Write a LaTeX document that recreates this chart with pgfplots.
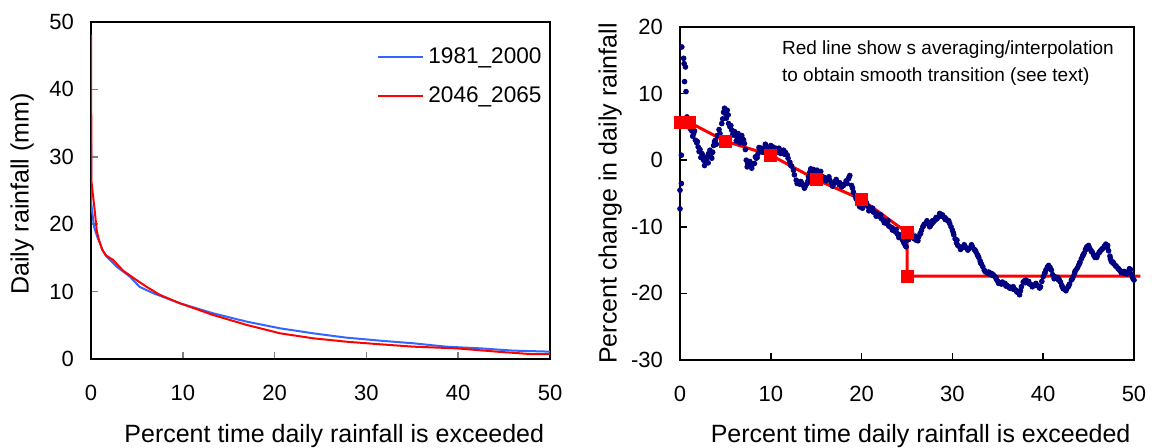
\documentclass[border=0pt]{standalone}
\usepackage{pgfplots}
\pgfplotsset{compat=1.18}
\usepackage{fontspec}
\setmainfont{Liberation Sans}
\definecolor{lblue}{RGB}{51,102,255}
\definecolor{navy}{RGB}{0,0,128}
\begin{document}
\begin{tikzpicture}
\pgfplotsset{
  myax/.style={
    scale only axis,
    anchor=south west,
    xmin=0, xmax=50,
    xtick={0,10,...,50},
    tick pos=left,
    tick align=inside,
    major tick length=3.5pt,
    axis line style={line width=0.8pt},
    /pgf/number format/assume math mode=true,
    tick label style={font=\fontsize{11}{13}\selectfont},
    yticklabel style={xshift=-5pt},
    xticklabel style={yshift=-9.5pt},
    label style={font=\fontsize{12.5}{15}\selectfont},
    xlabel style={at={(axis description cs:0.53,-0.228)}, anchor=center},
    xlabel={Percent time daily rainfall is exceeded},
  }
}
\begin{axis}[myax,
  at={(45.5pt,44.5pt)}, width=229.5pt, height=168.5pt,
  ymin=0, ymax=50, ytick={0,10,...,50},
  major tick style={gray, line width=0.8pt},
  ylabel={Daily rainfall (mm)},
  ylabel style={at={(axis description cs:-0.15,0.49)}, anchor=center},
  legend style={draw=none, fill=none, at={(axis description cs:0.61,0.949)}, anchor=north west,
    font=\fontsize{11.3}{13}\selectfont, row sep=6pt},
  legend cell align=left,
  legend image code/.code={\draw[#1] (0pt,0pt) -- (22.5pt,0pt);},
]
\addplot[lblue, line width=1pt] coordinates {
(0,32.0) (0.02,23.1) (0.33,19.6) (0.69,18.1) (0.98,17.2) (1.23,16.2) (1.7,15.2)
(2.8,13.7) (4.25,12.2) (5.3,10.7) (6.8,9.75) (9.7,8.26) (13.3,6.78) (17,5.53)
(20.6,4.55) (24.2,3.81) (27.8,3.17) (31.5,2.72) (35.1,2.33) (38.7,1.83)
(42.4,1.58) (46,1.24) (50,1.09)};
\addlegendentry{1981\_2000}
\addplot[red, line width=1pt] coordinates {
(0,48.1) (0.05,26.3) (0.4,22.1) (0.62,19.1) (0.87,17.6) (1.23,16.2) (1.6,15.4)
(2.4,14.7) (3.5,13.1) (4.97,11.7) (6.06,10.7) (7.52,9.5) (9.7,8.26) (13.3,6.53)
(17,5.04) (20.6,3.81) (24.2,3.07) (27.8,2.57) (31.5,2.18) (35.1,1.83)
(39.8,1.58) (44.2,1.09) (47.8,0.74) (50,0.74)};
\addlegendentry{2046\_2065}
\end{axis}

\begin{axis}[myax,
  at={(340pt,44pt)}, width=227pt, height=166.5pt,
  ymin=-30, ymax=20, ytick={-30,-20,...,20},
  major tick style={black, line width=0.8pt},
  clip=false,
  ylabel={Percent change in daily rainfall},
  ylabel style={at={(axis description cs:-0.154,0.5)}, anchor=center},
]
\addplot[only marks, mark=*, mark size=1.2pt, navy] coordinates {
(0,-4.5) (0,-7.3) (0.15,0.75) (0.15,-3.5) (0.2,17.0) (0.4,15.3) (0.45,14.5) (0.6,14.0)
(0.5,11.8) (0.66,10.3) (0.77,6.5) (1.0,5.0) (1.15,4.7) (1.3,4.4) (1.5,4.0) (1.7,3.0)
(1.85,2.6) (2.0,2.0) (2.2,1.6) (2.4,1.0) (2.6,0.0) (2.8,-0.3) (3.0,0.5) (3.15,1.0)
(3.3,1.5) (3.5,0.3) (3.7,2.2) (3.9,3.0) (4.1,3.7) (4.4,4.0) (4.6,5.5) (4.8,7.2)
(5.0,7.0) (5.2,7.5) (5.35,5.5) (5.5,5.0) (5.7,4.5) (5.9,4.0) (6.1,3.7) (6.3,3.4)
(6.5,3.2) (6.8,3.7) (7.0,3.0) (7.1,2.5) (7.3,0) (7.45,-0.5) (7.6,-0.8) (7.9,-1.2)
(8.2,-0.5) (8.4,0.3) (8.6,1.0) (8.8,1.4) (9.0,1.8) (9.25,1.6) (9.5,2.0) (9.75,1.7)
(10.0,2.2) (10.3,1.5) (10.55,1.8) (10.8,1.2) (11.1,1.0) (11.4,1.5) (11.6,1.2)
(11.8,0.8) (12.1,-0.3) (12.3,-0.9) (12.5,-1.5) (12.8,-3.0) (13.0,-3.3) (13.2,-3.6)
(13.4,-3.4) (13.6,-3.8) (13.8,-3.9) (14.0,-3.5) (14.15,-2.5) (14.3,-1.8) (14.5,-1.5)
(14.7,-1.4) (14.9,-1.6) (15.1,-1.5) (15.4,-2.0) (15.6,-2.4) (15.9,-2.6) (16.2,-2.8)
(16.5,-3.0) (16.7,-3.4) (16.9,-3.6) (17.1,-3.2) (17.3,-3.3) (17.55,-3.7) (17.8,-4.0)
(18.1,-3.6) (18.4,-3.5) (18.55,-2.8) (18.7,-2.3) (18.9,-3.8) (19.1,-4.8) (19.3,-5.4)
(19.5,-6.0) (19.65,-6.6) (19.8,-7.0) (20.0,-6.8) (20.2,-6.5) (20.4,-6.6) (20.6,-6.8)
(20.75,-7.0) (20.9,-7.3) (21.1,-7.5) (21.3,-7.8) (21.5,-7.9) (21.7,-8.0) (21.85,-8.3)
(22.0,-8.5) (22.2,-8.8) (22.4,-9.0) (22.6,-9.2) (22.8,-9.5) (22.95,-9.8) (23.1,-10.0)
(23.3,-10.1) (23.5,-10.3) (23.7,-10.7) (23.9,-11.0) (24.05,-11.3) (24.2,-11.2)
(24.35,-11.6) (24.5,-12.0) (24.65,-12.4) (24.8,-12.8) (25.0,-12.0) (25.15,-11.6)
(25.3,-11.2) (25.45,-11.3) (25.6,-11.5) (25.8,-11.8) (26.0,-12.0) (26.15,-11.8)
(26.3,-11.5) (26.45,-11.0) (26.6,-10.5) (26.75,-10.0) (26.9,-9.6) (27.1,-9.5)
(27.3,-9.5) (27.45,-9.7) (27.6,-9.8) (27.75,-9.5) (27.9,-9.3) (28.1,-9.0) (28.3,-8.8)
(28.5,-8.5) (28.7,-8.3) (28.85,-8.4) (29.0,-8.5) (29.15,-8.6) (29.3,-8.8) (29.5,-9.1)
(29.7,-9.5) (29.85,-10.0) (30.0,-10.5) (30.15,-11.2) (30.3,-11.8) (30.45,-12.4)
(30.6,-12.8) (30.8,-13.0) (31.0,-13.2) (31.2,-13.1) (31.4,-13.0) (31.6,-13.2)
(31.8,-13.3) (32.0,-13.1) (32.2,-13.0) (32.4,-13.4) (32.6,-13.8) (32.75,-14.2)
(32.9,-14.6) (33.05,-15.1) (33.2,-15.6) (33.35,-16.0) (33.5,-16.5) (33.7,-16.8)
(33.9,-17.0) (34.1,-17.1) (34.3,-17.0) (34.5,-17.2) (34.7,-17.5) (34.85,-17.9)
(35.0,-18.2) (35.2,-18.4) (35.4,-18.6) (35.6,-18.5) (35.8,-18.5) (36.0,-18.8)
(36.2,-19.0) (36.4,-19.1) (36.6,-19.3) (36.8,-19.4) (37.0,-19.5) (37.2,-19.8)
(37.4,-20.2) (37.6,-19.0) (37.8,-18.3) (37.95,-18.1) (38.1,-18.0) (38.3,-18.3)
(38.5,-18.6) (38.7,-18.7) (38.9,-18.8) (39.1,-18.8) (39.3,-18.8) (39.5,-18.9)
(39.7,-19.0) (39.85,-18.2) (40.0,-17.5) (40.15,-17.0) (40.3,-16.5) (40.45,-16.1)
(40.6,-15.8) (40.75,-16.1) (40.9,-16.5) (41.05,-17.2) (41.2,-17.8) (41.4,-17.7)
(41.6,-17.6) (41.75,-17.9) (41.9,-18.3) (42.05,-18.8) (42.2,-19.3) (42.4,-19.4)
(42.6,-19.3) (42.75,-19.0) (42.9,-18.6) (43.1,-18.0) (43.3,-17.5) (43.45,-17.0)
(43.6,-16.5) (43.75,-16.2) (43.9,-15.8) (44.05,-15.3) (44.2,-14.8) (44.35,-14.4)
(44.5,-14.0) (44.65,-13.5) (44.8,-13.0) (44.95,-13.1) (45.1,-13.2) (45.25,-13.5)
(45.4,-13.8) (45.55,-14.2) (45.7,-14.6) (45.85,-14.4) (46.0,-14.2) (46.15,-13.9)
(46.3,-13.6) (46.45,-13.4) (46.6,-13.2) (46.75,-12.9) (46.9,-12.6) (47.05,-13.1)
(47.2,-13.6) (47.35,-14.4) (47.5,-15.2) (47.65,-15.4) (47.8,-15.6) (47.95,-15.8)
(48.1,-16.0) (48.25,-16.3) (48.4,-16.5) (48.55,-16.7) (48.7,-16.8) (48.85,-16.9)
(49.0,-17.0) (49.15,-16.9) (49.3,-16.8) (49.45,-16.6) (49.6,-16.4) (49.75,-17.1)
(49.9,-17.8) (50.0,-18.0)
(1.1,5.5) (1.4,3.6) (1.6,4.4) (1.9,2.8) (2.1,1.3) (2.3,0.4) (2.5,0.8) (2.7,-0.8)
(2.9,0.2) (3.1,-0.4) (3.4,0.9) (3.6,1.2) (3.8,2.8) (4.0,2.4) (4.3,4.6) (4.7,6.2)
(4.9,7.8) (5.1,6.3) (5.3,6.8) (5.6,5.2) (5.8,3.8) (6.0,4.3) (6.2,2.9) (6.4,4.0)
(6.6,2.6) (6.9,3.2) (7.2,1.6) (7.4,-1.0) (7.7,-0.2) (8.0,-0.6) (8.3,0.5) (8.5,0.4)
(8.7,1.9) (9.1,1.2) (9.4,2.4) (9.7,1.3) (9.9,1.7) (10.2,2.0) (10.5,1.1) (10.9,1.8)
(11.2,1.3) (11.5,0.9) (11.9,0.3) (12.2,-0.8) (12.6,-2.2) (12.9,-3.5) (13.3,-3.2)
(13.7,-4.2) (14.1,-3.1) (14.4,-1.3) (14.8,-1.9) (15.2,-1.9) (15.5,-1.7) (15.8,-2.9)
(16.1,-3.1) (16.4,-2.5) (16.8,-3.9) (17.2,-2.9) (17.6,-3.4) (18.0,-3.8) (18.3,-3.1)
(18.6,-2.6) (19.0,-4.2) (19.4,-5.8) (19.7,-6.6) (20.1,-7.2) (20.5,-6.3) (20.8,-7.6)
(21.2,-7.2) (21.6,-8.4) (22.1,-8.2) (22.5,-9.4) (22.9,-9.1) (23.4,-10.5) (23.8,-10.4)
(24.1,-11.6) (24.4,-11.5) (24.7,-12.2) (24.9,-13.0) (25.2,-11.9) (25.5,-10.9)
(25.9,-11.4) (26.2,-12.1) (26.5,-11.0) (26.8,-9.9) (27.2,-9.1) (27.5,-10.0)
(27.8,-9.1) (28.2,-8.6) (28.6,-8.0) (28.9,-8.2) (29.2,-8.9) (29.6,-9.1) (30.1,-10.9)
(30.5,-12.0) (30.9,-13.4) (31.3,-12.7) (31.7,-13.5) (32.1,-12.7) (32.5,-13.5)
(32.8,-14.3) (33.1,-15.4) (33.6,-16.7) (34.0,-16.8) (34.4,-17.3) (34.8,-17.6)
(35.1,-18.5) (35.5,-18.3) (35.9,-18.9) (36.3,-19.2) (36.7,-19.0) (37.1,-19.8)
(37.5,-19.6) (38.0,-18.4) (38.4,-18.2) (38.8,-19.0) (39.2,-18.5) (39.6,-19.2)
(40.2,-16.9) (40.5,-16.0) (40.8,-16.3) (41.3,-17.5) (41.7,-18.0) (42.1,-19.0)
(42.5,-19.6) (42.8,-18.9) (43.2,-17.8) (43.5,-16.7) (44.0,-15.5) (44.4,-14.2)
(44.7,-13.3) (45.0,-12.8) (45.3,-13.7) (45.6,-14.3) (45.9,-14.6) (46.2,-13.8)
(46.5,-13.3) (46.8,-12.9) (47.1,-12.8) (47.4,-14.8) (47.7,-15.3) (48.0,-15.9)
(48.3,-16.3) (48.6,-16.9) (48.9,-16.7) (49.2,-17.1) (49.5,-16.3) (49.8,-17.5)};
\addplot[red, line width=1.5pt] coordinates {
(0,5.7) (1,5.7) (5,2.85) (10,0.75) (15,-2.9) (20,-5.9) (25,-10.86) (25,-17.4) (50.7,-17.4)};
\addplot[only marks, red, mark=square*, mark size=3pt] coordinates {
(0,5.7) (1,5.7) (5,2.85) (10,0.75) (15,-2.9) (20,-5.9) (25,-10.86) (25,-17.4)};
\node[anchor=north west, align=left, inner sep=0pt, font=\fontsize{9.5}{13.5}\selectfont]
  at (axis description cs:0.224,0.961)
  {Red line show s averaging/interpolation\\to obtain smooth transition (see text)};
\end{axis}
\pgfresetboundingbox
\path[use as bounding box] (0pt,0pt) rectangle (579pt,224pt);
\end{tikzpicture}
\end{document}
